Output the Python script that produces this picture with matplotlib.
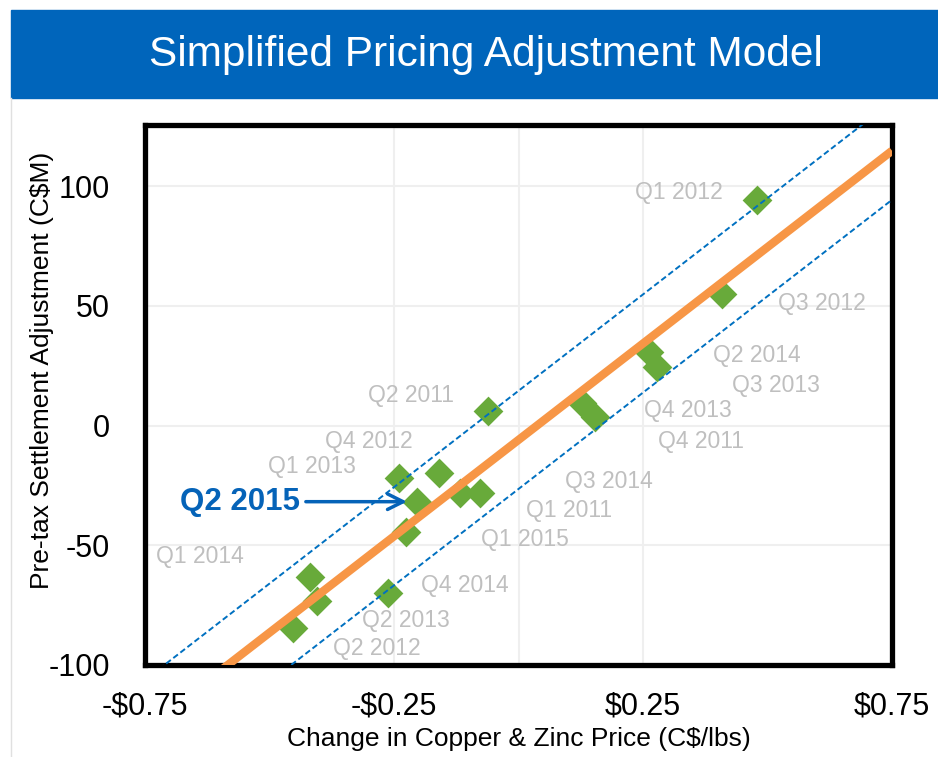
from matplotlib import pyplot as plt
import numpy as np

plt.rcParams['font.family'] = ['Liberation Sans', 'DejaVu Sans']
plt.rcParams['axes.unicode_minus'] = False

# quarterly points: change in copper & zinc price vs pre-tax settlement adjustment
quarters = ['Q1 2012', 'Q3 2012', 'Q2 2014', 'Q3 2013', 'Q4 2013', 'Q4 2011',
            'Q2 2011', 'Q4 2012', 'Q1 2013', 'Q3 2014', 'Q1 2011', 'Q1 2015',
            'Q1 2014', 'Q4 2014', 'Q2 2013', 'Q2 2012']
price_change = [0.478, 0.408, 0.262, 0.279, 0.127, 0.154,
                -0.061, -0.160, -0.240, -0.117, -0.077, -0.225,
                -0.419, -0.263, -0.405, -0.453]
adjustment = [94.2, 54.9, 30.8, 24.6, 9.3, 3.7,
              6.2, -20.0, -21.8, -28.3, -28.3, -44.3,
              -63.1, -69.8, -73.2, -84.7]

# where the grey data labels sit
label_x = [0.322, 0.609, 0.479, 0.517, 0.340, 0.366,
           -0.216, -0.300, -0.415, 0.182, 0.101, 0.013,
           -0.640, -0.107, -0.226, -0.284]
label_y = [97.5, 51.1, 29.4, 16.9, 6.1, -6.5,
           12.7, -6.5, -16.9, -23.2, -35.3, -47.8,
           -54.5, -67.0, -81.6, -93.3]

# highlighted quarter
current_label = 'Q2 2015'
current_x = -0.203
current_y = -31.8

# model line and band
slope = 161.0
intercept = -6.0
band = 20.5

x_ticks = [-0.75, -0.25, 0.25, 0.75]
y_ticks = [-100, -50, 0, 50, 100]

fig = plt.figure(figsize=(9.38, 7.57), dpi=100)

# title banner
fig.add_artist(plt.Rectangle((11 / 938, 1 - 98 / 757), 927 / 938, 88 / 757,
                             transform=fig.transFigure, color='#0065BB', zorder=0))
fig.text(486 / 938, 1 - 55 / 757, 'Simplified Pricing Adjustment Model',
         color='white', fontsize=30.5, ha='center', va='center')
fig.add_artist(plt.Line2D([11 / 938, 11 / 938], [0, 1 - 98 / 757],
                          transform=fig.transFigure, color='#E0E0E0', lw=1))

ax = fig.add_axes([145 / 938, 1 - 665 / 757, 747 / 938, 540 / 757])
ax.set_xlim(-0.75, 0.75)
ax.set_ylim(-100, 125.5)

for gx in [-0.25, 0, 0.25]:
    ax.axvline(gx, color='#EFEFEF', lw=1.5, zorder=0)
for gy in [-50, 0, 50, 100]:
    ax.axhline(gy, color='#EFEFEF', lw=1.5, zorder=0)

ax.scatter(price_change + [current_x], adjustment + [current_y], marker='D',
           s=230, color='#68AA3A', zorder=2, linewidths=0)

xs = np.array([-0.75, 0.75])
ax.plot(xs, slope * xs + intercept, color='#F79646', lw=6, zorder=3,
        solid_capstyle='butt')
ax.plot(xs, slope * xs + intercept + band, color='#0070C0', lw=1.4,
        ls=(0, (3, 1.6)), zorder=3)
ax.plot(xs, slope * xs + intercept - band, color='#0070C0', lw=1.4,
        ls=(0, (3, 1.6)), zorder=3)

for q, lx, ly in zip(quarters, label_x, label_y):
    ax.text(lx, ly, q, color='#BFBFBF', fontsize=16.5, ha='center', va='center',
            zorder=4)

ax.text(-0.439, current_y, current_label, color='#0563B8', fontsize=22.5,
        fontweight='bold', ha='right', va='center', zorder=4)
ax.annotate('', xy=(current_x - 0.021, current_y), xytext=(-0.427, current_y),
            arrowprops=dict(arrowstyle='->', color='#0563B8', lw=2.5,
                            mutation_scale=28, shrinkA=0, shrinkB=0), zorder=4)

ax.set_xticks(x_ticks)
ax.set_xticklabels([('-$%.2f' % -v) if v < 0 else ('$%.2f' % v) for v in x_ticks])
ax.set_yticks(y_ticks)
ax.tick_params(length=0, labelsize=22, pad=19)
ax.tick_params(axis='y', pad=25)

for sp in ax.spines.values():
    sp.set_linewidth(3.8)
    sp.set_color('black')
    sp.set_capstyle('projecting')

ax.set_xlabel('Change in Copper & Zinc Price (C$/lbs)', fontsize=19, labelpad=4)
fig.text(42 / 938, 1 - 370 / 757, 'Pre-tax Settlement Adjustment (C$M)',
         fontsize=19, rotation=90, ha='center', va='center')

plt.savefig('out.png', dpi=100)
